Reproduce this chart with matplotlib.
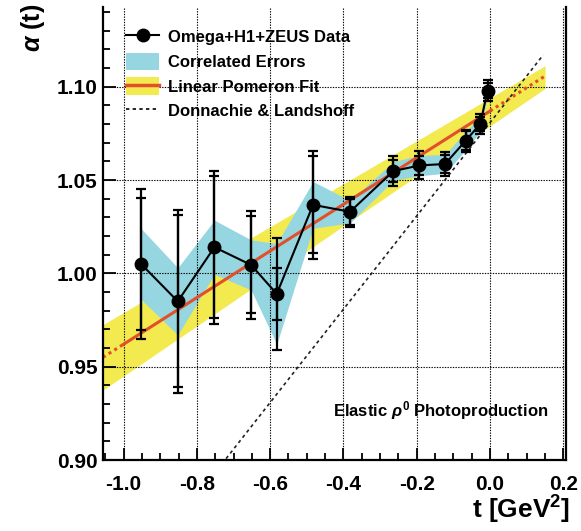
import numpy as np
import matplotlib
matplotlib.use("Agg")
import matplotlib.pyplot as plt
from matplotlib.lines import Line2D
from matplotlib.patches import Patch

plt.rcParams["font.family"] = ["Liberation Sans", "DejaVu Sans"]
plt.rcParams["font.weight"] = "bold"
plt.rcParams["axes.unicode_minus"] = False
plt.rcParams["mathtext.fontset"] = "custom"
plt.rcParams["mathtext.rm"] = "Liberation Sans:bold"
plt.rcParams["mathtext.it"] = "Liberation Sans:italic:bold"
plt.rcParams["mathtext.bf"] = "Liberation Sans:bold"

# data points (Omega + H1 + ZEUS)
t = [-0.952, -0.852, -0.752, -0.652, -0.582, -0.483, -0.382,
     -0.264, -0.193, -0.123, -0.067, -0.027, -0.007]
alpha = [1.005, 0.985, 1.014, 1.0045, 0.989, 1.0367, 1.033,
         1.0548, 1.0578, 1.0586, 1.071, 1.080, 1.0979]
stat_err = [0.0355, 0.046, 0.038, 0.026, 0.014, 0.026, 0.007,
            0.006, 0.0052, 0.005, 0.005, 0.004, 0.004]
tot_err = [0.040, 0.049, 0.041, 0.029, 0.030, 0.029, 0.008,
           0.008, 0.0075, 0.0065, 0.006, 0.0055, 0.0055]
corr_err = [0.019, 0.018, 0.0145, 0.0134, 0.027, 0.0125, 0.006,
            0.005, 0.0055, 0.005, 0.005, 0.004, 0.003]

# linear pomeron fit and its band
fit_a0, fit_ap = 1.087, 0.125
band_hi_a0, band_hi_ap = 1.094, 0.115
band_lo_a0, band_lo_ap = 1.079, 0.134
fit_range = (-1.0, 0.0)
draw_range = (-1.056, 0.15)

# Donnachie & Landshoff
dl_a0, dl_ap = 1.0808, 0.25

t = np.array(t)
alpha = np.array(alpha)
corr_err = np.array(corr_err)

fig = plt.figure(figsize=(5.81, 5.31), dpi=100)
ax = fig.add_axes([103 / 581, 1 - 460 / 531, 463 / 581, 453 / 531])

yellow = "#f2ea4f"
cyan = "#95d6e1"
red = "#e2502b"

tt = np.linspace(draw_range[0], draw_range[1], 200)
ax.fill_between(tt, band_lo_a0 + band_lo_ap * tt, band_hi_a0 + band_hi_ap * tt,
                color=yellow, lw=0, zorder=1)
ax.fill_between(t, alpha - corr_err, alpha + corr_err, color=cyan, lw=0, zorder=1.1)

ts = np.linspace(fit_range[0], fit_range[1], 50)
ax.plot(ts, fit_a0 + fit_ap * ts, color=red, lw=2.2, zorder=2)
for a, b in [(draw_range[0], fit_range[0]), (fit_range[1], draw_range[1])]:
    td = np.linspace(a, b, 20)
    ax.plot(td, fit_a0 + fit_ap * td, color=red, lw=2.2, ls=(0, (1, 1.2)), zorder=2)

tdl = np.linspace(-1.056, 0.145, 50)
ax.plot(tdl, dl_a0 + dl_ap * tdl, color="#222222", lw=1.2, ls=(0, (2, 2)), zorder=2)

ax.plot(t, alpha, color="black", lw=1.5, zorder=3)
ax.errorbar(t, alpha, yerr=tot_err, fmt="none", ecolor="black", elinewidth=1.6,
            capsize=3.6, capthick=1.6, zorder=3)
ax.errorbar(t, alpha, yerr=stat_err, fmt="none", ecolor="black", elinewidth=1.6,
            capsize=3.6, capthick=1.6, zorder=3)
ax.plot(t, alpha, "o", color="black", ms=9, zorder=4)

ax.set_xlim(-1.056, 0.207)
ax.set_ylim(0.90, 1.1427)
xt = [-1.0, -0.8, -0.6, -0.4, -0.2, 0.0, 0.2]
yt = [0.90, 0.95, 1.00, 1.05, 1.10]
ax.set_xticks(xt)
ax.set_xticklabels(["%.1f" % v for v in xt])
ax.set_yticks(yt)
ax.set_yticklabels(["%.2f" % v for v in yt])
ax.set_xticks(np.arange(-1.05, 0.2, 0.05), minor=True)
ax.set_yticks(np.arange(0.90, 1.145, 0.01), minor=True)
ax.tick_params(which="both", direction="in", top=False, right=False, width=1.3)
ax.tick_params(which="major", length=9, labelsize=15)
ax.tick_params(which="minor", length=5)
ax.tick_params(axis="x", pad=11)
ax.tick_params(axis="y", pad=4)
ax.grid(True, which="major", color="black", ls=(0, (1.2, 1.2)), lw=0.8)
ax.set_axisbelow("line")
ax.spines["top"].set_visible(False)
for s in ["left", "right", "bottom"]:
    ax.spines[s].set_linewidth(1.6)

handles = [
    Line2D([], [], color="black", lw=1.5, marker="o", ms=9),
    Patch(color=cyan, lw=0),
    (Patch(color=yellow, lw=0), Line2D([], [], color=red, lw=2.5)),
    Line2D([], [], color="black", lw=1.2, ls=(0, (2, 2))),
]
labels = ["Omega+H1+ZEUS Data", "Correlated Errors", "Linear Pomeron Fit",
          "Donnachie & Landshoff"]
ax.legend(handles, labels, loc="upper left", bbox_to_anchor=(0.035, 0.968),
          frameon=False, fontsize=12, handlelength=2.0, handleheight=1.2,
          labelspacing=0.45, handletextpad=0.5, borderaxespad=0)

ax.text(0.497, 0.11, r"Elastic $\rho^0$ Photoproduction", transform=ax.transAxes,
        fontsize=12, ha="left", va="center")

fig.text(570 / 581, 1 - 510 / 531, r"t [GeV$^2$]", fontsize=19, ha="right", va="center")
fig.text(33 / 581, 1 - 52 / 531, r"$\alpha$ (t)", fontsize=18, rotation=90,
         ha="center", va="bottom")

fig.savefig("out.png", dpi=100)
